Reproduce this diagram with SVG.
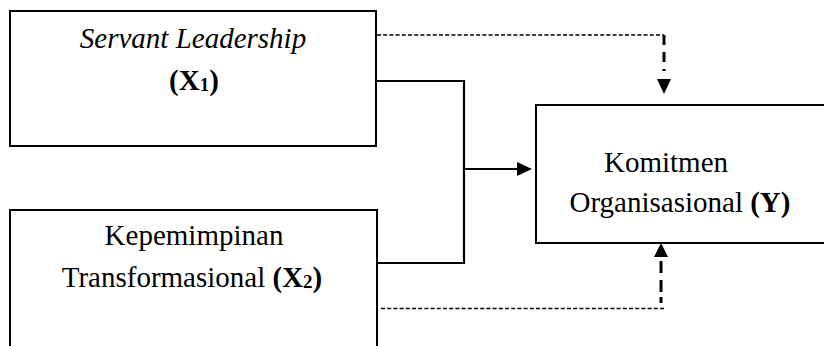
<svg xmlns="http://www.w3.org/2000/svg" width="824" height="346" viewBox="0 0 824 346">
  <defs>
    <style>
      .box { fill: #ffffff; stroke: #000000; stroke-width: 2; }
      .lbl { font-family: 'Liberation Serif', 'Times New Roman', 'DejaVu Serif', serif; font-size: 29px; fill: #000000; }
      .b { font-weight: bold; }
      .sub { font-size: 19px; }
      .solid { fill: none; stroke: #000000; stroke-width: 2.2; }
      .dash-thin { fill: none; stroke: #000000; stroke-width: 1.6; stroke-dasharray: 4 2.2; }
      .dash-thick { fill: none; stroke: #000000; stroke-width: 3; }
      .head { fill: #000000; }
    </style>
  </defs>
  <rect width="824" height="346" fill="#ffffff"/>

  <g id="node-x1">
    <rect class="box" x="10" y="11" width="366" height="135"/>
    <text class="lbl" x="193" y="48" text-anchor="middle" font-style="italic">Servant Leadership</text>
    <text class="lbl b" x="194" y="90" text-anchor="middle">(X<tspan class="sub" dy="1">1</tspan><tspan dy="-1">)</tspan></text>
  </g>

  <g id="node-x2">
    <rect class="box" x="10" y="210" width="367" height="150"/>
    <text class="lbl" x="194" y="245" text-anchor="middle">Kepemimpinan</text>
    <text class="lbl" x="192" y="287" text-anchor="middle">Transformasional <tspan class="b">(X<tspan class="sub" dy="1">2</tspan><tspan dy="-1">)</tspan></tspan></text>
  </g>

  <g id="node-y">
    <rect class="box" x="536" y="105" width="300" height="138"/>
    <text class="lbl" x="666" y="172" text-anchor="middle">Komitmen</text>
    <text class="lbl" x="680" y="212" text-anchor="middle">Organisasional <tspan class="b">(Y)</tspan></text>
  </g>

  <g id="connectors">
    <!-- joint path: both predictors merge into one arrow -->
    <polyline class="solid" points="376,81 464,81 464,263 377,263"/>
    <line class="solid" x1="464" y1="169" x2="518" y2="169"/>
    <polygon class="head" points="517,162 532,169 517,176"/>

    <!-- X1 partial effect (dashed) -->
    <line class="dash-thin" x1="377" y1="35" x2="664" y2="35"/>
    <line class="dash-thick" x1="664" y1="35" x2="664" y2="71" stroke-dasharray="10 7"/>
    <polygon class="head" points="657,79 671,79 664,94"/>

    <!-- X2 partial effect (dashed) -->
    <line class="dash-thin" x1="381" y1="308.5" x2="664" y2="308.5"/>
    <line class="dash-thick" x1="661" y1="303" x2="661" y2="261" stroke-dasharray="6 5 12 7 12"/>
    <polygon class="head" points="654,257 668,257 661,243"/>
  </g>
</svg>
